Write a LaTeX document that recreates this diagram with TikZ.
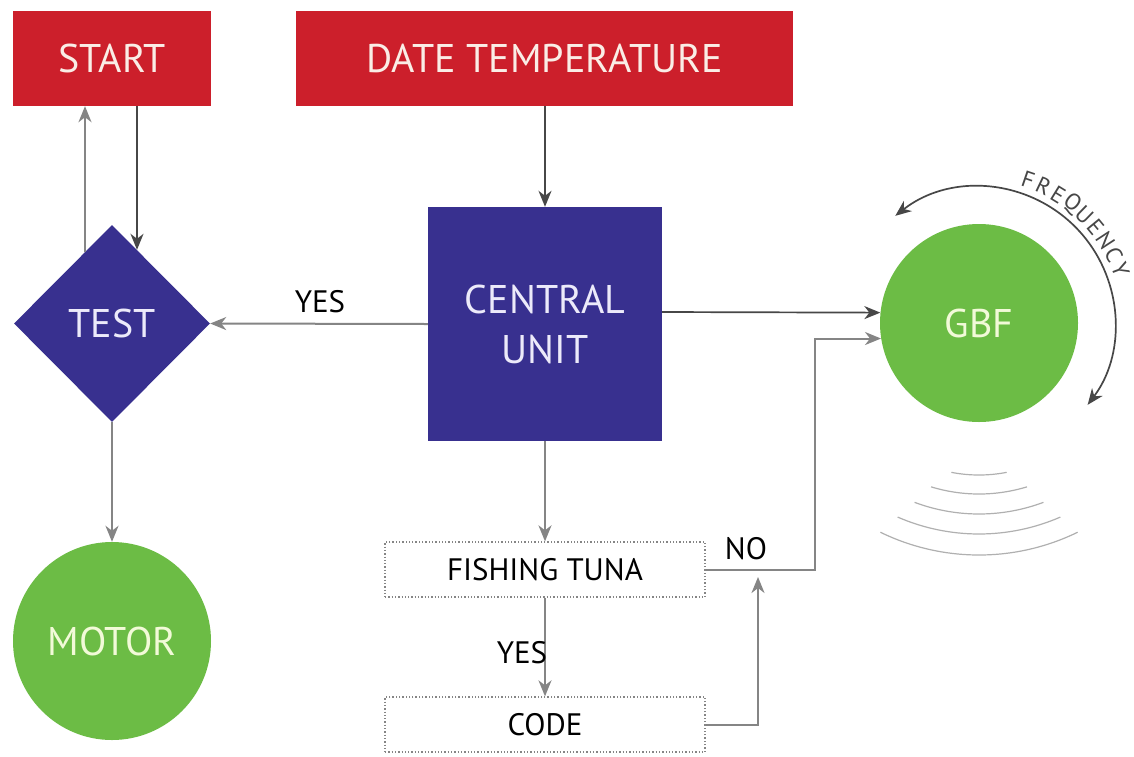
\documentclass[tikz,border=0pt]{standalone}
\usepackage{fontspec}
\setmainfont{PT Sans}
\usetikzlibrary{shapes.geometric,arrows.meta,calc}
\definecolor{cred}{HTML}{CC1F2B}
\definecolor{credtext}{HTML}{FAEDE6}
\definecolor{cblue}{HTML}{38308F}
\definecolor{cbluetext}{HTML}{ECEAFA}
\definecolor{cgreen}{HTML}{6CBC45}
\definecolor{cgreentext}{HTML}{F2FAD8}
\definecolor{cgray}{HTML}{858585}
\definecolor{cdark}{HTML}{474747}
\definecolor{cwave}{HTML}{B0B0B0}
\begin{document}
\begin{tikzpicture}[x=1pt,y=-1pt,
  bigfont/.style={font=\fontsize{40}{50}\selectfont},
  smallfont/.style={font=\fontsize{31}{36}\selectfont},
  redbox/.style={rectangle, fill=cred, text=credtext, bigfont, inner sep=0pt, minimum height=95pt},
  bluebox/.style={rectangle, fill=cblue, text=cbluetext, bigfont, inner sep=0pt, align=center},
  greencirc/.style={circle, fill=cgreen, text=cgreentext, bigfont, inner sep=0pt, minimum size=198pt},
  dotbox/.style={rectangle, draw=cgray, dotted, line width=1.3pt, fill=white, text=black, smallfont, inner sep=0pt, minimum width=320pt, minimum height=55pt},
  garrow/.style={draw=cgray, line width=2pt, -{Stealth[length=16pt,width=13pt,inset=5pt]}},
  darrow/.style={draw=cdark, line width=1.7pt, -{Stealth[length=16pt,width=13pt,inset=5pt]}},
  lbl/.style={text=black, smallfont, inner sep=0pt},
  freqletter/.style={text=cdark, font=\fontsize{23}{23}\selectfont, inner sep=0pt}
]
\useasboundingbox[fill=white] (0,0) rectangle (1134,756);

% nodes
\node[redbox, minimum width=198pt] (start) at (112,58.5) {START};
\node[redbox, minimum width=497pt] (date) at (544.5,58.5) {DATE TEMPERATURE};
\node[diamond, aspect=1, fill=cblue, text=cbluetext, bigfont, inner sep=0pt, minimum width=196pt, minimum height=197pt] (test) at (112,323.5) {TEST};
\node[bluebox, minimum width=234pt, minimum height=234pt] (central) at (545,324) {CENTRAL\\UNIT};
\node[greencirc] (gbf) at (979,323) {GBF};
\node[greencirc] (motor) at (112,641) {MOTOR};
\node[dotbox] (fish) at (545,569.5) {FISHING TUNA};
\node[dotbox] (code) at (545,724.5) {CODE};

% start <-> test
\coordinate (tl) at ($(test.north)+(-27,27)$);
\coordinate (tr) at ($(test.north)+(25,25)$);
\draw[garrow] (tl) -- (tl |- start.south);
\draw[darrow] (tr |- start.south) -- (tr);

% central -> test
\draw[garrow] (central.west) -- (test.east);
\node[lbl] (yes1) at (320,302) {YES};

% date -> central
\draw[darrow] (date.south -| central.north) -- (central.north);

% central -> gbf
\draw[darrow] ($(central.east)+(0,-12)$) -- (gbf.174);

% test -> motor
\draw[garrow] (test.south) -- (motor.north);

% central -> fishing
\draw[garrow] (central.south) -- (fish.north);

% fishing -> code
\draw[garrow] (fish.south) -- (code.north);
\node[lbl] (yes2) at (522,653) {YES};

% fishing -> gbf (NO)
\coordinate (nocorner) at (815,569.5);
\draw[garrow] (fish.east) -- (nocorner) |- (gbf.189);
\node[lbl] (no) at (746,549) {NO};

% code -> NO line
\coordinate (codecorner) at (758,724.5);
\coordinate (codeup) at (758,577);
\draw[garrow] (code.east) -- (codecorner) -- (codeup);

% frequency arc
\draw[draw=cdark, line width=1.7pt, {Stealth[length=16pt,width=13pt,inset=5pt]}-{Stealth[length=16pt,width=13pt,inset=5pt]}]
  ($(gbf.center)+(128:136pt)$) arc[start angle=128, end angle=-37, radius=136pt];
\foreach \ch [count=\i] in {F,R,E,Q,U,E,N,C,Y}{
  \pgfmathsetmacro{\ang}{71-(\i-1)*6.3}
  \node[freqletter, rotate=\ang-90] (fq\i) at ($(gbf.center)+(\ang:151pt)$) {\ch};
}

% waves
\foreach \r/\s in {145/11, 164/17, 184/20.5, 204/23.5, 225/26}{
  \draw[cwave, line width=1.2pt]
    ($(gbf.center)+(0,7)+(-90-\s:\r pt)$) arc[start angle=-90-\s, end angle=-90+\s, radius=\r pt];
}
\end{tikzpicture}
\end{document}
